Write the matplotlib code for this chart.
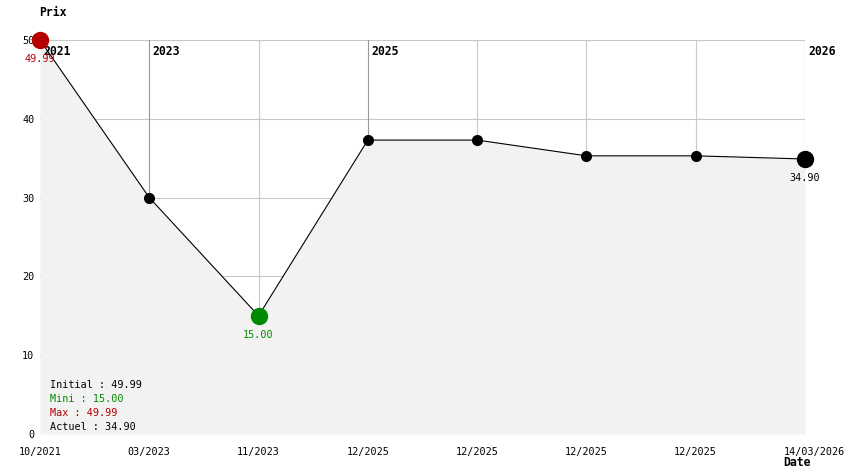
import numpy as np
import matplotlib.pyplot as plt

dates = ["10/2021", "03/2023", "11/2023", "12/2025", "12/2025", "12/2025", "12/2025", "14/03/2026"]
prices = [49.99, 30.0, 15.0, 37.3, 37.3, 35.3, 35.3, 34.90]
years = ["2021", "2023", "2025", "2026"]
year_idx = [0, 1, 3, 7]
yticks = [0, 10, 20, 30, 40, 50]

RED = "#b40000"
GREEN = "#008a00"
FONT = "DejaVu Sans Mono"
FS = 7.3
FSB = 8.3

fig = plt.figure(figsize=(8.44, 4.74), dpi=100)
W, H = 844, 474
ax = fig.add_axes([40 / W, (H - 434) / H, (805 - 40) / W, (434 - 40) / H])
x = np.arange(len(prices))

# grid sits behind the opaque fill
for v in yticks[1:]:
    ax.axhline(v, color="#c8c8c8", lw=0.8, zorder=1)
for i in x[1:]:
    c = "#999999" if i in year_idx else "#c8c8c8"
    ax.axvline(i, color=c, lw=0.8, zorder=1)

ax.fill_between(x, 0, prices, color="#f2f2f2", lw=0, zorder=2)

ax.plot(x, prices, color="black", lw=0.8, zorder=3)
ax.plot(x[1:-1], prices[1:-1], "o", color="black", ms=7, zorder=4, clip_on=False)

imin = int(np.argmin(prices))
ax.plot(x[0], prices[0], "o", color=RED, ms=11.5, zorder=6, clip_on=False)
ax.plot(x[imin], prices[imin], "o", color=GREEN, ms=11.5, zorder=5, clip_on=False)
ax.plot(x[-1], prices[-1], "o", color="black", ms=11.5, zorder=5, clip_on=False)

# value labels
for i, col in [(0, RED), (imin, GREEN), (len(prices) - 1, "black")]:
    ax.annotate(f"{prices[i]:.2f}", (x[i], prices[i]), xytext=(0, -10),
                textcoords="offset points", ha="center", va="top",
                color=col, fontsize=FS, family=FONT, zorder=7)

# year labels
for lab, i in zip(years, year_idx):
    ax.annotate(lab, (x[i], 1), xycoords=("data", "axes fraction"),
                xytext=(2.5, -3.5), textcoords="offset points", ha="left", va="top",
                fontsize=FSB, family=FONT, fontweight="bold", zorder=5)

ax.set_xlim(0, len(prices) - 1)
ax.set_ylim(0, 50)
ax.set_yticks(yticks)
ax.set_yticklabels([str(v) for v in yticks], family=FONT, fontsize=FS)
ax.set_xticks([])
ax.tick_params(axis="y", length=0, pad=4)
for s in ax.spines.values():
    s.set_visible(False)

# date labels
for i, d in enumerate(dates):
    dx = 7 if i == len(dates) - 1 else 0
    ax.annotate(d, (x[i], 0), xycoords=("data", "axes fraction"),
                xytext=(dx, -9), textcoords="offset points", ha="center", va="top",
                fontsize=FS, family=FONT, clip_on=False)

# summary
summary = [("Initial : %.2f" % prices[0], "black"),
           ("Mini : %.2f" % min(prices), GREEN),
           ("Max : %.2f" % max(prices), RED),
           ("Actuel : %.2f" % prices[-1], "black")]
for k, (t, c) in enumerate(summary):
    fig.text(50 / W, 1 - (385 + 14 * k) / H, t, color=c, fontsize=FS, family=FONT,
             va="center", ha="left")

fig.text(39 / W, 1 - 12 / H, "Prix", fontsize=FSB, family=FONT, fontweight="bold",
         va="center", ha="left")
fig.text(783 / W, 1 - 463 / H, "Date", fontsize=FSB, family=FONT, fontweight="bold",
         va="center", ha="left")

fig.savefig("out.png", dpi=100)
